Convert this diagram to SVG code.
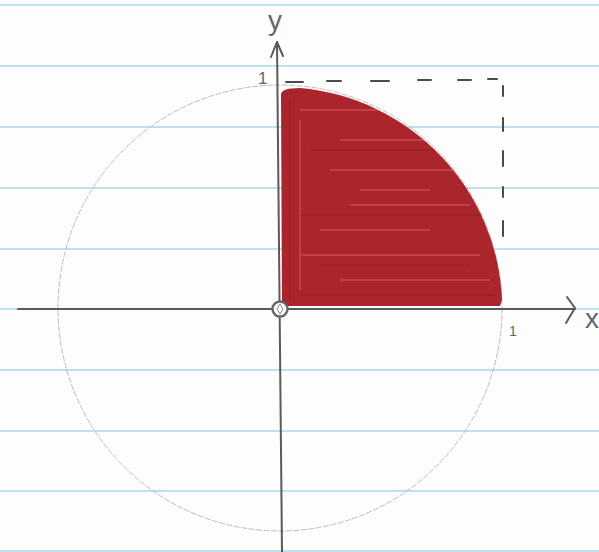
<svg xmlns="http://www.w3.org/2000/svg" width="599" height="552" viewBox="0 0 599 552">
<style>
.rule{stroke:#a9d9e6;stroke-width:1.6;fill:none}
.axis{stroke:#5a5a5a;stroke-width:2;fill:none;stroke-linecap:round;stroke-linejoin:round}
.dash{stroke:#4a4a4a;stroke-width:2;fill:none;stroke-linecap:round}
.lbl{font-family:"Liberation Sans",Arial,sans-serif;fill:#666}
.streak{stroke:#e06068;stroke-width:2;opacity:0.45;fill:none}
.streakd{stroke:#8c1a22;stroke-width:2;opacity:0.4;fill:none}
</style>
<defs>
<clipPath id="qclip"><path d="M281,94 Q282,88 300,88 A222,222 0 0 1 502,300 L500,306 L282,306 Z"/></clipPath>
</defs>
<rect width="599" height="552" fill="#fdfdfd"/>
<g id="paper">
<line class="rule" x1="0" y1="5" x2="599" y2="5"/>
<line class="rule" x1="0" y1="66" x2="599" y2="66"/>
<line class="rule" x1="0" y1="127" x2="599" y2="127"/>
<line class="rule" x1="0" y1="188" x2="599" y2="188"/>
<line class="rule" x1="0" y1="249" x2="599" y2="249"/>
<line class="rule" x1="0" y1="309" x2="599" y2="309"/>
<line class="rule" x1="0" y1="370" x2="599" y2="370"/>
<line class="rule" x1="0" y1="431" x2="599" y2="431"/>
<line class="rule" x1="0" y1="491" x2="599" y2="491"/>
<line class="rule" x1="0" y1="551" x2="599" y2="551"/>
</g>
<g id="unit-circle">
<ellipse cx="280" cy="308" rx="222" ry="223" fill="none" stroke="#bdbdbd" stroke-width="1" stroke-dasharray="6 1.5"/>
</g>
<g id="region">
<path d="M281,94 Q282,88 300,88 A222,222 0 0 1 502,300 L500,306 L282,306 Z" fill="#ab252c"/>
<g clip-path="url(#qclip)">
<path class="streak" d="M300,110 H420 M340,140 H440 M330,170 H460 M350,205 H470 M320,230 H430 M300,255 H480 M340,280 H490 M360,190 H430 M300,120 V290"/>
<path class="streakd" d="M290,100 V300 M310,150 H470 M300,215 H490 M320,265 H470 M300,295 H495"/>
</g>
</g>
<g id="dashed-box">
<path class="dash" d="M286,82 H303 M327,81 H341 M371,81 H389 M418,80 H431 M458,80 H471 M488,79 H497 M503,86 V96 M503,118 V131 M503,151 V166 M503,187 V197 M503,221 V236"/>
</g>
<g id="axes">
<path class="axis" d="M18,309 H575"/>
<path class="axis" d="M567,297 L575,308 L566,323"/>
<path class="axis" d="M277,42 L282,552"/>
<path class="axis" d="M271,57 L277,42 L283,56"/>
</g>
<g id="origin">
<circle cx="280" cy="309" r="7.5" fill="#fdfdfd" stroke="#666" stroke-width="2.4"/>
<path d="M280,304 L283,309 L280,314 L277,309 Z" fill="none" stroke="#888" stroke-width="1"/>
</g>
<g id="labels">
<text class="lbl" x="268" y="30" font-size="28">y</text>
<text class="lbl" x="585" y="328" font-size="28">x</text>
<text class="lbl" x="258" y="84" font-size="17">1</text>
<text class="lbl" x="509" y="336" font-size="14">1</text>
</g>
</svg>
